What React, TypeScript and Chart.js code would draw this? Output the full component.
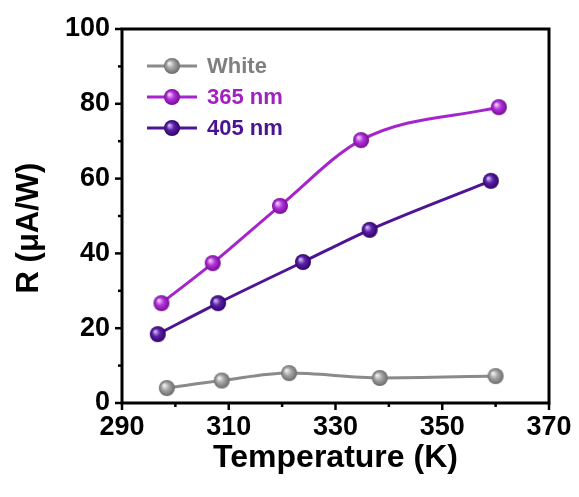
import React, { useEffect, useRef } from 'react';
import { Chart, registerables } from 'chart.js';

Chart.register(...registerables);

// ---- data ----
const seriesLabels = ['White', '365 nm', '405 nm'];
const temperatureWhite = [298.4, 308.7, 321.3, 338.3, 360.0];
const responsivityWhite = [4.0, 6.0, 8.0, 6.7, 7.2];
const temperature365 = [297.4, 307.0, 319.6, 334.8, 360.6];
const responsivity365 = [26.7, 37.4, 52.7, 70.3, 79.1];
const temperature405 = [296.7, 308.0, 323.9, 336.4, 359.1];
const responsivity405 = [18.4, 26.7, 37.7, 46.3, 59.4];
const xMajorTicks = [290, 310, 330, 350, 370];
const xMinorTicks = [300, 320, 340, 360];
const yMajorTicks = [0, 20, 40, 60, 80, 100];
const yMinorTicks = [10, 30, 50, 70, 90];
const xTitle = 'Temperature (K)';
const yTitle = 'R (μA/W)';

const FONT = '"Liberation Sans", Arial, Helvetica, sans-serif';

const palette = [
  { line: '#8a8a8a', text: '#808080', hi: '#f4f4f4', mid: '#a6a6a6', edge: '#6a6a6a' },
  { line: '#a624cc', text: '#a020c0', hi: '#f6d2ff', mid: '#b234dc', edge: '#760c92' },
  { line: '#4e1496', text: '#4a1490', hi: '#d2c0f4', mid: '#5c20aa', edge: '#2e0464' },
];

function makeBall(c: { hi: string; mid: string; edge: string }, r: number) {
  const cv = document.createElement('canvas');
  const size = Math.ceil(r * 2 + 2);
  cv.width = size;
  cv.height = size;
  const g = cv.getContext('2d')!;
  const cx = size / 2;
  const cy = size / 2;
  const grad = g.createRadialGradient(cx - r * 0.35, cy - r * 0.35, r * 0.05, cx, cy, r);
  grad.addColorStop(0, c.hi);
  grad.addColorStop(0.45, c.mid);
  grad.addColorStop(1, c.edge);
  g.fillStyle = grad;
  g.beginPath();
  g.arc(cx, cy, r, 0, Math.PI * 2);
  g.fill();
  return cv;
}

export default function App() {
  const ref = useRef<HTMLCanvasElement | null>(null);

  useEffect(() => {
    document.body.style.margin = '0';
    document.body.style.background = '#ffffff';
    const canvas = ref.current;
    if (!canvas) return;

    const balls = palette.map((p) => makeBall(p, 8));
    const xs = [temperatureWhite, temperature365, temperature405];
    const ys = [responsivityWhite, responsivity365, responsivity405];

    const datasets = seriesLabels.map((label, i) => ({
      label,
      data: xs[i].map((x, k) => ({ x, y: ys[i][k] })),
      borderColor: palette[i].line,
      backgroundColor: palette[i].line,
      borderWidth: 3,
      cubicInterpolationMode: 'monotone',
      pointStyle: balls[i] as any,
      pointRadius: 8,
      pointHoverRadius: 8,
    }));

    const framePlugin = {
      id: 'frameTicks',
      afterDraw(chart: any) {
        const { ctx, chartArea } = chart;
        const xs = chart.scales.x;
        const ysc = chart.scales.y;
        ctx.save();
        ctx.strokeStyle = '#000';
        ctx.lineWidth = 3;
        ctx.lineCap = 'butt';
        ctx.strokeRect(chartArea.left, chartArea.top, chartArea.right - chartArea.left, chartArea.bottom - chartArea.top);
        ctx.lineWidth = 2.5;
        const drawX = (vals: number[], len: number) => {
          vals.forEach((v) => {
            const px = xs.getPixelForValue(v);
            ctx.beginPath();
            ctx.moveTo(px, chartArea.bottom);
            ctx.lineTo(px, chartArea.bottom + len);
            ctx.stroke();
          });
        };
        const drawY = (vals: number[], len: number) => {
          vals.forEach((v) => {
            const py = ysc.getPixelForValue(v);
            ctx.beginPath();
            ctx.moveTo(chartArea.left, py);
            ctx.lineTo(chartArea.left - len, py);
            ctx.stroke();
          });
        };
        drawX(xMajorTicks, 7);
        drawX(xMinorTicks, 4);
        drawY(yMajorTicks, 7);
        drawY(yMinorTicks, 4);

        // y-axis title
        ctx.save();
        ctx.translate(29, 228);
        ctx.rotate(-Math.PI / 2);
        ctx.font = `bold 31px ${FONT}`;
        ctx.fillStyle = '#000';
        ctx.textAlign = 'center';
        ctx.textBaseline = 'middle';
        ctx.fillText(yTitle, 0, 0);
        ctx.restore();

        // legend
        ctx.font = `bold 22px ${FONT}`;
        ctx.textBaseline = 'middle';
        ctx.textAlign = 'left';
        seriesLabels.forEach((label, i) => {
          const y = 66 + i * 31;
          ctx.strokeStyle = palette[i].line;
          ctx.lineWidth = 3;
          ctx.beginPath();
          ctx.moveTo(147, y);
          ctx.lineTo(197, y);
          ctx.stroke();
          const b = balls[i];
          ctx.drawImage(b, 172 - b.width / 2, y - b.height / 2);
          ctx.fillStyle = palette[i].text;
          ctx.fillText(label, 207, y + 1);
        });
        ctx.restore();
      },
    };

    const chart = new Chart(canvas, {
      type: 'line',
      data: { datasets },
      plugins: [framePlugin],
      options: {
        animation: false,
        responsive: false,
        maintainAspectRatio: false,
        layout: { padding: { top: 29, right: 30, left: 0, bottom: 0 } },
        plugins: { legend: { display: false }, tooltip: { enabled: false } },
        scales: {
          x: {
            type: 'linear',
            min: 290,
            max: 370,
            ticks: {
              stepSize: 20,
              color: '#000',
              padding: 8,
              maxRotation: 0,
              font: { family: FONT, size: 27, weight: 'bold' },
            },
            grid: { display: false, drawTicks: false },
            border: { display: false },
            title: {
              display: true,
              text: xTitle,
              color: '#000',
              font: { family: FONT, size: 32, weight: 'bold' },
              padding: { top: 0, bottom: 20 },
            },
            afterFit(scale: any) {
              scale.height = 94;
              scale.paddingLeft = 0;
              scale.paddingRight = 0;
            },
          },
          y: {
            type: 'linear',
            min: 0,
            max: 100,
            ticks: {
              stepSize: 20,
              color: '#000',
              padding: 12,
              font: { family: FONT, size: 27, weight: 'bold' },
            },
            grid: { display: false, drawTicks: false },
            border: { display: false },
            title: { display: false },
            afterFit(scale: any) {
              scale.width = 122;
              scale.paddingTop = 0;
              scale.paddingBottom = 0;
            },
          },
        },
      },
    } as any);

    return () => chart.destroy();
  }, []);

  return (
    <div style={{ width: 579, height: 497, background: '#fff' }}>
      <canvas ref={ref} width={579} height={497} />
    </div>
  );
}
